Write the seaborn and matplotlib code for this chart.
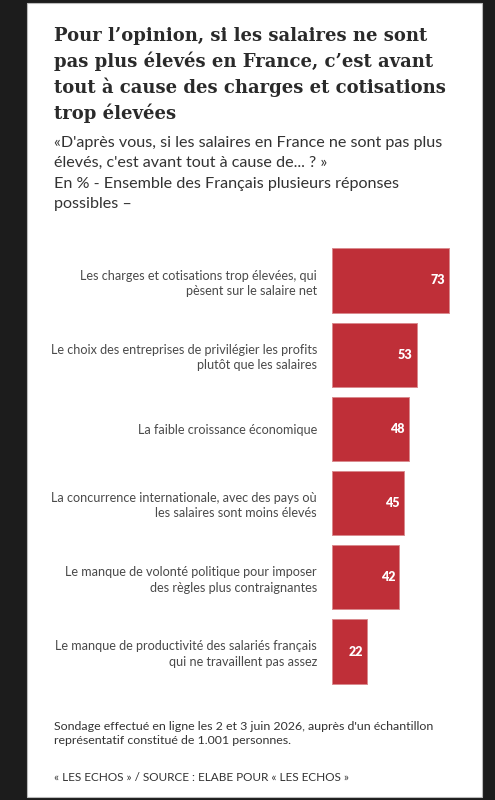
import matplotlib
matplotlib.use("Agg")
import matplotlib.pyplot as plt
import seaborn as sns
import pandas as pd
from matplotlib.patches import Rectangle

categories = [
    "Les charges et cotisations trop élevées, qui\npèsent sur le salaire net",
    "Le choix des entreprises de privilégier les profits\nplutôt que les salaires",
    "La faible croissance économique",
    "La concurrence internationale, avec des pays où\nles salaires sont moins élevés",
    "Le manque de volonté politique pour imposer\ndes règles plus contraignantes",
    "Le manque de productivité des salariés français\nqui ne travaillent pas assez",
]
values = [73, 53, 48, 45, 42, 22]

title = ("Pour l’opinion, si les salaires ne sont\npas plus élevés en France, c’est avant\n"
         "tout à cause des charges et cotisations\ntrop élevées")
subtitle = ("«D'après vous, si les salaires en France ne sont pas plus\nélevés, c'est avant tout à cause de... ? »\n"
            "En % - Ensemble des Français plusieurs réponses\npossibles –")
note = ("Sondage effectué en ligne les 2 et 3 juin 2026, auprès d'un échantillon\n"
        "représentatif constitué de 1.001 personnes.")
source = "« LES ECHOS » / SOURCE : ELABE POUR « LES ECHOS »"

df = pd.DataFrame({"cat": categories, "val": values})

sns.set_theme(style="white")
plt.rcParams["font.family"] = ["Lato", "DejaVu Sans"]

W, H = 495, 800
fig = plt.figure(figsize=(W / 100, H / 100), dpi=100)
fig.patch.set_facecolor("#1c1c1c")
fig.patches.append(Rectangle((27 / W, 1 - 797 / H), (482 - 27) / W, (797 - 3) / H,
                             transform=fig.transFigure, facecolor="white",
                             edgecolor="#bbbbbb", linewidth=0.8, zorder=-5))

# axes: bars start at x=331.7px, 1.607 px per unit
x0 = 331.7
xmax = 80
ax_w = xmax * 1.607
top, bot = 243.4, 688.6
ax = fig.add_axes([x0 / W, 1 - bot / H, ax_w / W, (bot - top) / H])
ax.set_facecolor("none")
ax.set_zorder(2)

sns.barplot(data=df, x="val", y="cat", orient="h", color="#bf2f38",
            saturation=1, width=0.863, edgecolor="#d98a8e", linewidth=0.7, ax=ax)
ax.set_xlim(0, xmax)
ax.set_ylim(5.5, -0.5)
ax.set_xlabel("")
ax.set_ylabel("")
ax.set_xticks([])
sns.despine(ax=ax, left=True, bottom=True)
ax.tick_params(axis="y", length=0, pad=10.6, labelsize=9.1, labelcolor="#4a4a4a")
for t in ax.get_yticklabels():
    t.set_linespacing(1.32)

for cont in ax.containers:
    labels = ax.bar_label(cont, labels=[str(v) for v in values], padding=-3,
                          color="white", fontsize=9, fontweight="heavy")
    for lb in labels:
        lb.set_ha("right")

fig.text(54 / W, 1 - 27 / H, title, ha="left", va="top", fontsize=13.0,
         fontweight="bold", family=["DejaVu Serif"], color="#2a2a2a", linespacing=1.42)
fig.text(54 / W, 1 - 136 / H, subtitle, ha="left", va="top", fontsize=11.6,
         color="#333333", linespacing=1.57)
fig.text(54 / W, 1 - 721 / H, note, ha="left", va="top", fontsize=8.9,
         color="#333333", linespacing=1.35)
fig.text(54 / W, 1 - 772 / H, source, ha="left", va="top", fontsize=8.5,
         color="#333333")

fig.savefig("out.png", dpi=100, facecolor=fig.get_facecolor())
